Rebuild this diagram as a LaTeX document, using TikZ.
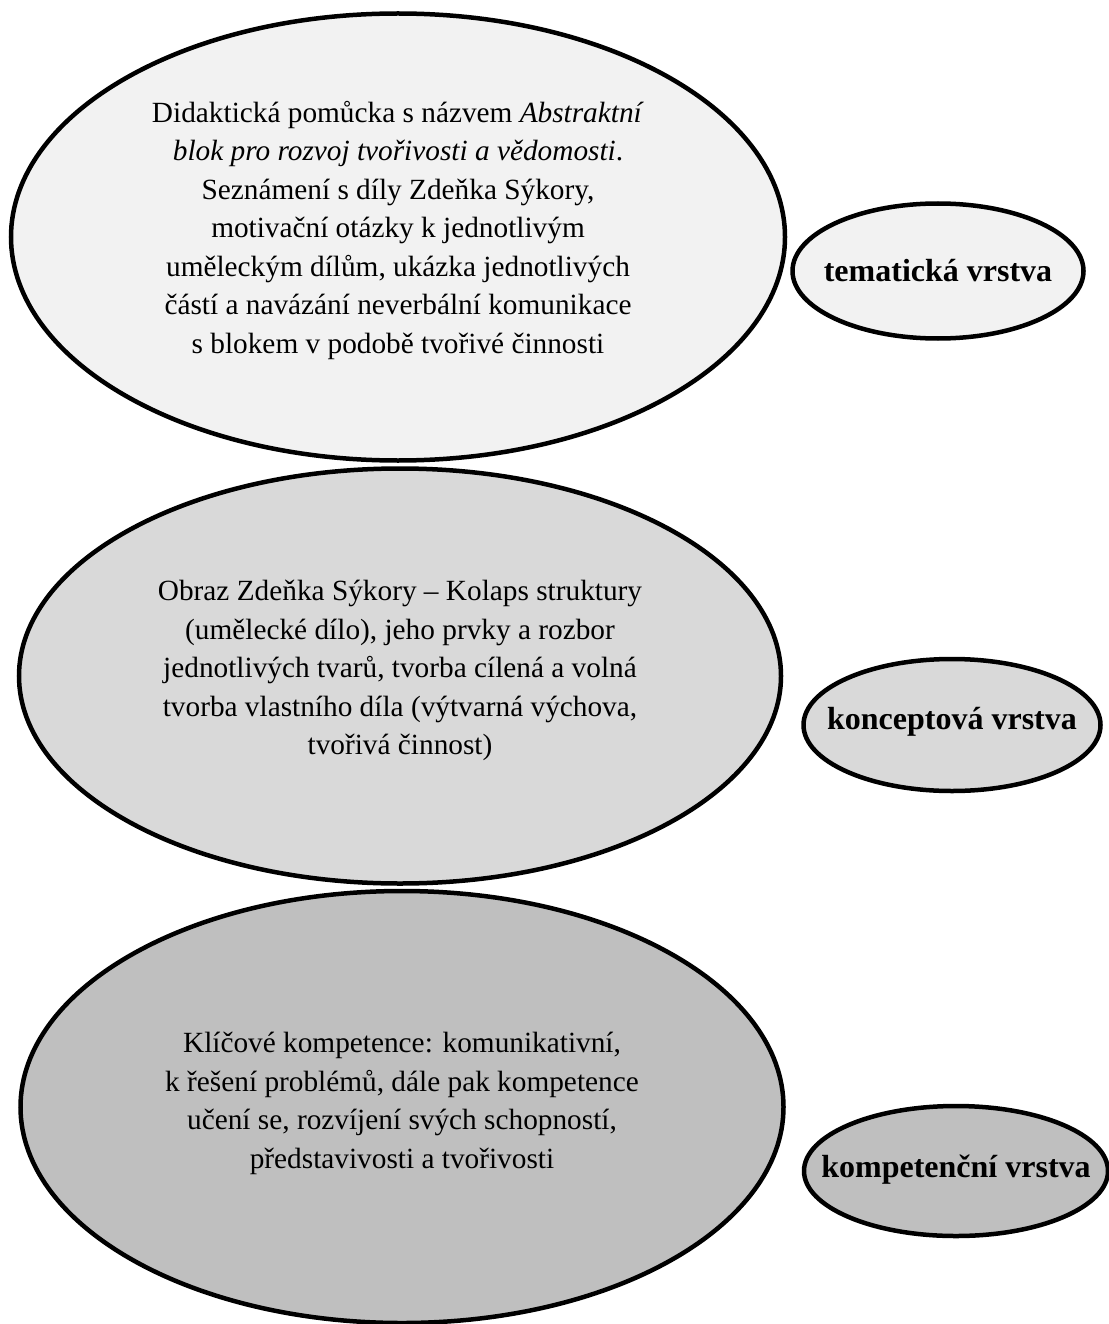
\documentclass[tikz,border=0pt]{standalone}
\usepackage{fontspec}
\setmainfont{Liberation Serif}
\usepackage{tikz}
\usetikzlibrary{shapes.geometric}
\usepackage{xcolor}
\definecolor{layerA}{RGB}{242, 242, 242}
\definecolor{layerB}{RGB}{217, 217, 217}
\definecolor{layerC}{RGB}{191, 191, 191}

\begin{document}
\begin{tikzpicture}[
  x=1pt, y=-1pt,
  layer/.style={ellipse, draw, line width=4.5pt, inner sep=0pt, align=center,
    font=\fontsize{29.3}{38.5}\selectfont},
  tag/.style={ellipse, draw, line width=4.5pt, inner xsep=-50pt, inner ysep=-10pt,
    font=\fontsize{32}{38.5}\selectfont\bfseries}
]
  \useasboundingbox (0,0) rectangle (1108,1324);

  % Content of the layers (left)
  \node[layer, fill=layerA, minimum width=774pt, minimum height=447pt, text depth=20pt] (tema) at (398,237)
    {Didaktická pomůcka s názvem \textit{Abstraktní}\\
     \textit{blok pro rozvoj tvořivosti a vědomosti}.\\
     Seznámení s díly Zdeňka Sýkory,\\
     motivační otázky k jednotlivým\\
     uměleckým dílům, ukázka jednotlivých\\
     částí a navázání neverbální komunikace\\
     s blokem v podobě tvořivé činnosti};
  \node[layer, fill=layerB, minimum width=762pt, minimum height=415pt, text depth=17pt] (koncept) at (400,676)
    {Obraz Zdeňka Sýkory -- Kolaps struktury\\
     (umělecké dílo), jeho prvky a rozbor\\
     jednotlivých tvarů, tvorba cílená a volná\\
     tvorba vlastního díla (výtvarná výchova,\\
     tvořivá činnost)};
  \node[layer, fill=layerC, minimum width=763pt, minimum height=432pt, text depth=13pt] (kompet) at (402,1107)
    {Klíčové kompetence: komunikativní,\\
     k řešení problémů, dále pak kompetence\\
     učení se, rozvíjení svých schopností,\\
     představivosti a tvořivosti};

  % Names of the layers (right)
  \node[tag, fill=layerA, minimum width=291pt, minimum height=135pt] (temaTag) at (938,271) {tematická vrstva};
  \node[tag, fill=layerB, minimum width=297pt, minimum height=132pt, text depth=14pt] (konceptTag) at (952,725) {konceptová vrstva};
  \node[tag, fill=layerC, minimum width=304pt, minimum height=130pt, text depth=10pt] (kompetTag) at (956,1171) {kompetenční vrstva};
\end{tikzpicture}
\end{document}
